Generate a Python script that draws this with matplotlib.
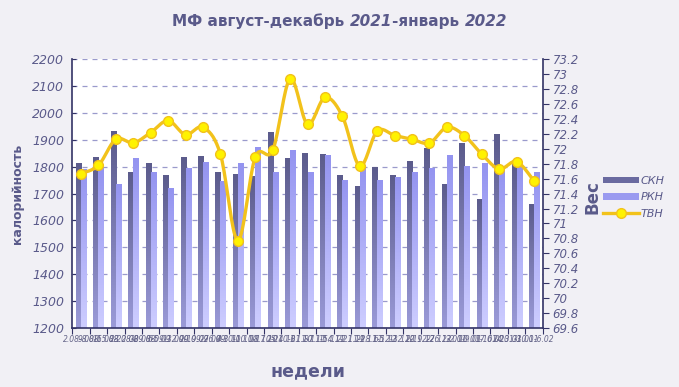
import numpy as np
import matplotlib
matplotlib.use("Agg")
import matplotlib.pyplot as plt
from matplotlib.colors import LinearSegmentedColormap
from matplotlib.lines import Line2D
from matplotlib.patches import Patch
from matplotlib.offsetbox import TextArea, HPacker, AnchoredOffsetbox

# недели (27 недель, 2.08.2021 - 6.02.2022)
weeks = ["2.08-8.08", "9.08-15.08", "16.08-22.08", "23.08-29.08", "30.08-5.09",
         "6.09-12.09", "13.09-19.09", "20.09-26.09", "27.09-3.10", "4.10-10.10",
         "11.10-17.10", "18.10-24.10", "25.10-31.10", "1.11-7.11", "8.11-14.11",
         "15.11-21.11", "22.11-28.11", "29.11-5.12", "6.12-12.12", "13.12-19.12",
         "20.12-26.12", "27.12-2.01", "3.01-9.01", "10.01-16.01", "17.01-23.01",
         "24.01-30.01", "31.01-6.02"]

ckn = [1812, 1837, 1933, 1781, 1812, 1770, 1837, 1841, 1781, 1773,
       1765, 1930, 1833, 1851, 1848, 1770, 1729, 1798, 1770, 1822,
       1870, 1736, 1889, 1680, 1922, 1810, 1661]
rkn = [1790, 1795, 1733, 1833, 1781, 1721, 1793, 1815, 1745, 1814,
       1873, 1781, 1863, 1781, 1844, 1751, 1798, 1751, 1762, 1781,
       1793, 1844, 1803, 1814, 1788, 1803, 1778]
tvn = [71.67, 71.78, 72.13, 72.08, 72.22, 72.38, 72.19, 72.29, 71.93, 70.77,
       71.89, 71.98, 72.94, 72.33, 72.69, 72.44, 71.77, 72.24, 72.18, 72.13,
       72.08, 72.29, 72.18, 71.93, 71.73, 71.83, 71.57]

TXT = "#5a5a8a"
BG = "#f1f0f5"
YMIN, YMAX = 1200, 2200


def gradient_bars(ax, bars, top_color, bottom_color):
    cmap = LinearSegmentedColormap.from_list("g", [bottom_color, top_color])
    grad = np.linspace(0, 1, 64).reshape(-1, 1)
    for b in bars:
        x0, w = b.get_x(), b.get_width()
        top = b.get_y() + b.get_height()
        b.set_visible(False)
        ax.imshow(grad, extent=[x0, x0 + w, YMIN, top], origin="lower",
                  aspect="auto", cmap=cmap, zorder=2)


def smooth(xs, ys, n=20):
    # кривая Катмулла-Рома для сглаживания линии (как в Excel)
    xs = np.asarray(xs, float)
    ys = np.asarray(ys, float)
    px = np.concatenate([[xs[0]], xs, [xs[-1]]])
    py = np.concatenate([[ys[0]], ys, [ys[-1]]])
    outx, outy = [], []
    t = np.linspace(0, 1, n)
    for i in range(1, len(px) - 2):
        for p, out in ((px, outx), (py, outy)):
            p0, p1, p2, p3 = p[i - 1], p[i], p[i + 1], p[i + 2]
            seg = 0.5 * (2 * p1 + (-p0 + p2) * t + (2 * p0 - 5 * p1 + 4 * p2 - p3) * t ** 2
                         + (-p0 + 3 * p1 - 3 * p2 + p3) * t ** 3)
            out.extend(seg)
    return outx, outy


fig = plt.figure(figsize=(6.79, 3.87), dpi=100, facecolor=BG)
ax = fig.add_axes([0.1065, 0.153, 0.6928, 0.6933])
ax.set_facecolor("white")

x = np.arange(len(weeks))
w = 0.29
b1 = ax.bar(x - w / 2, ckn, w)
b2 = ax.bar(x + w / 2, rkn, w)
gradient_bars(ax, b1, "#5c5c8c", "#9a9ad8")
gradient_bars(ax, b2, "#9494f0", "#cdcdff")

ax.set_xlim(-0.5, len(weeks) - 0.5)
ax.set_ylim(YMIN, YMAX)
ax.set_yticks(np.arange(1200, 2201, 100))
ax.yaxis.grid(True, color="#9a9acc", linestyle=(0, (4, 4)), linewidth=0.9)
ax.set_axisbelow(True)
ax.tick_params(axis="y", direction="in", length=3, color="#333366",
               labelsize=9, labelcolor=TXT, pad=6)
for lab in ax.get_yticklabels():
    lab.set_fontstyle("italic")

ax.set_xticks(np.arange(len(weeks) + 1) - 0.5)
ax.set_xticklabels([])
ax.set_xticks(x, minor=True)
ax.set_xticklabels(weeks, minor=True, fontsize=5.5, fontstyle="italic", color="#66668a")
ax.tick_params(axis="x", which="major", direction="out", length=4, color="#333366")
ax.tick_params(axis="x", which="minor", length=0, pad=5)

for s in ["top", "right"]:
    ax.spines[s].set_visible(False)
for s in ["left", "bottom"]:
    ax.spines[s].set_color("#333366")
    ax.spines[s].set_linewidth(1.2)

ax2 = ax.twinx()
ax2.set_ylim(69.6, 73.2)
ax2.set_yticks(np.round(np.arange(69.6, 73.21, 0.2), 1))
ax2.set_yticklabels(["%g" % v for v in np.round(np.arange(69.6, 73.21, 0.2), 1)])
ax2.tick_params(axis="y", direction="out", length=4, color="#333366",
                labelsize=8.5, labelcolor=TXT, pad=3)
for lab in ax2.get_yticklabels():
    lab.set_fontstyle("italic")
for s in ["top", "left", "bottom"]:
    ax2.spines[s].set_visible(False)
ax2.spines["right"].set_color("#333366")
ax2.spines["right"].set_linewidth(1.2)

sx, sy = smooth(x, tvn)
ax2.plot(sx, sy, color="#f2c21b", linewidth=2.4, zorder=3, solid_capstyle="round")
ax2.plot(x, tvn, linestyle="none", marker="o", markersize=7,
         markerfacecolor="#fff200", markeredgecolor="#f2c21b", markeredgewidth=1, zorder=4)

ax.set_ylabel("калорийность", fontsize=9, fontweight="bold", color=TXT, labelpad=6)
ax.set_xlabel("недели", fontsize=12.5, fontweight="bold", color=TXT, labelpad=13)
fig.text(0.873, 0.49, "Вес", rotation=90, fontsize=12, fontweight="bold",
         color=TXT, ha="center", va="center")

# заголовок: годы курсивом
parts = [("МФ август-декабрь ", "normal"), ("2021", "italic"),
         ("-январь ", "normal"), ("2022", "italic")]
areas = [TextArea(t, textprops=dict(fontsize=11, fontweight="bold", fontstyle=st, color=TXT))
         for t, st in parts]
box = HPacker(children=areas, align="baseline", pad=0, sep=0)
anch = AnchoredOffsetbox(loc="center", child=box, frameon=False,
                         bbox_to_anchor=(0.5, 0.945), bbox_transform=fig.transFigure)
fig.add_artist(anch)

handles = [Patch(facecolor="#6a6aa0", edgecolor="none"),
           Patch(facecolor="#9a9af0", edgecolor="none"),
           Line2D([], [], color="#f2c21b", linewidth=2.4, marker="o", markersize=7,
                  markerfacecolor="#fff200", markeredgecolor="#f2c21b")]
leg = fig.legend(handles, ["СКН", "РКН", "ТВН"], loc="center left",
                 bbox_to_anchor=(0.873, 0.49), frameon=False, fontsize=8,
                 handlelength=3.3, handleheight=0.5, handletextpad=0.1, labelspacing=0.6)
for t in leg.get_texts():
    t.set_color(TXT)
    t.set_fontstyle("italic")

fig.savefig("out.png", dpi=100, facecolor=BG)
